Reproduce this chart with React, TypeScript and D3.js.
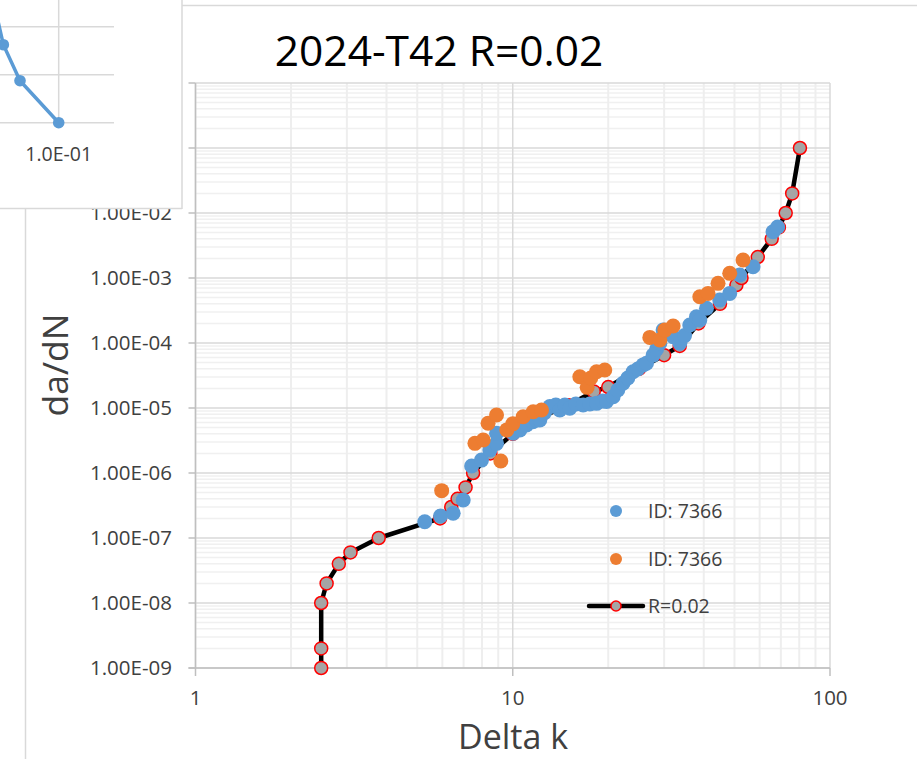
import React from "react";
import * as d3 from "d3";

// ---- main chart data ----
const blueX = [5.28, 5.92, 6.49, 6.98, 7.42, 7.97, 8.47, 8.89, 8.89, 10.03, 10.53, 11.05, 11.57, 11.89, 12.17, 12.6, 13.09, 13.67, 14.07, 14.6, 15.13, 15.81, 16.67, 17.5, 18.37, 19.22, 19.75, 20.72, 21.43, 22.27, 23.05, 23.95, 24.79, 25.76, 26.4, 27.7, 28.4, 29.08, 29.78, 31.26, 32.03, 33.62, 34.8, 36.14, 37.94, 38.87, 40.8, 44.92, 48.3, 51.94, 57.2, 66.14, 68.4];
const blueY = [1.78e-7, 2.18e-7, 2.4e-7, 3.85e-7, 1.28e-6, 1.58e-6, 2.26e-6, 2.86e-6, 4.08e-6, 4.08e-6, 4.6e-6, 5.47e-6, 6.15e-6, 6.53e-6, 6.53e-6, 8.5e-6, 1.05e-5, 1.11e-5, 9.3e-6, 1.11e-5, 9.9e-6, 1.15e-5, 1.11e-5, 1.15e-5, 1.18e-5, 1.28e-5, 1.26e-5, 1.49e-5, 1.89e-5, 2.4e-5, 2.9e-5, 3.61e-5, 3.98e-5, 4.6e-5, 4.88e-5, 6.5e-5, 8e-5, 9.9e-5, 1.58e-4, 1.41e-4, 1.25e-4, 9.9e-5, 1.3e-4, 1.89e-4, 2.54e-4, 2.26e-4, 3.42e-4, 4.59e-4, 5.8e-4, 1.11e-3, 1.49e-3, 5.15e-3, 6.1e-3];

const orangeX = [5.97, 7.6, 8.07, 8.36, 8.89, 9.17, 9.58, 10.0, 10.78, 11.6, 12.32, 16.27, 17.16, 17.62, 18.37, 19.5, 27.04, 29.08, 30.15, 32.03, 38.87, 41.27, 44.37, 48.3, 53.2];
const orangeY = [5.35e-7, 2.86e-6, 3.22e-6, 5.82e-6, 7.8e-6, 1.53e-6, 4.6e-6, 5.7e-6, 7.35e-6, 8.77e-6, 9.3e-6, 3.03e-5, 2.08e-5, 2.9e-5, 3.61e-5, 3.85e-5, 1.22e-4, 1.11e-4, 1.58e-4, 1.83e-4, 5.15e-4, 5.8e-4, 8.28e-4, 1.18e-3, 1.89e-3];

const rX = [2.49, 2.49, 2.49, 2.59, 2.83, 3.08, 3.78, 5.9, 6.4, 6.7, 7.1, 7.5, 8.5, 10, 12, 15, 18, 20, 25, 30, 33.6, 38.5, 45, 50.7, 52.6, 59.2, 65.5, 69, 72.5, 76, 80.4];
const rY = [1e-9, 2e-9, 1e-8, 2e-8, 4e-8, 6e-8, 1e-7, 2e-7, 3e-7, 4e-7, 6e-7, 1e-6, 2e-6, 4e-6, 7e-6, 1.1e-5, 1.8e-5, 2.1e-5, 4e-5, 6.5e-5, 9e-5, 2e-4, 4e-4, 7.8e-4, 1e-3, 2.1e-3, 4e-3, 6e-3, 1e-2, 2e-2, 1e-1];

const xTickValues = [1, 10, 100];
const yTickValues = [1e-9, 1e-8, 1e-7, 1e-6, 1e-5, 1e-4, 1e-3, 1e-2, 1e-1, 1];

const titleText = "2024-T42 R=0.02";
const xTitle = "Delta k";
const yTitle = "da/dN";
const seriesNames = ["ID: 7366", "ID: 7366", "R=0.02"];

// ---- partially visible chart behind (top-left) ----
const insetX = [0.0383, 0.0451, 0.0573, 0.1];
const insetY = [0.457, 0.0422, 0.0075, 0.001];
const insetGridY = [0.1, 0.01, 0.001];
const insetGridX = [0.1];
const insetTickLabel = "1.0E-01";

const FONT = "'Open Sans', 'Noto Sans', sans-serif";
const BLUE = "#5b9bd5";
const ORANGE = "#ed7d31";

function fmtSci(v: number): string {
  const e = Math.round(Math.log10(v));
  const sign = e < 0 ? "-" : "+";
  return "1.00E" + sign + String(Math.abs(e)).padStart(2, "0");
}

export default function App() {
  const W = 917, H = 759;
  const x = d3.scaleLog().domain([1, 100]).range([195.5, 830]);
  const y = d3.scaleLog().domain([1e-9, 1]).range([668, 83]);

  const minorX: number[] = [];
  for (let d = 0; d < 2; d++) for (let k = 2; k <= 9; k++) minorX.push(k * Math.pow(10, d));
  const minorY: number[] = [];
  for (let d = -9; d < 0; d++) for (let k = 2; k <= 9; k++) minorY.push(k * Math.pow(10, d));

  const rPts = rX.map((v, i) => [v, rY[i]] as [number, number]);
  const line = d3.line<[number, number]>().x(d => x(d[0])).y(d => y(d[1]));

  // inset scales
  const ix = d3.scaleLog().domain([0.01, 0.1]).range([58.7 - 160, 58.7]);
  const iy = d3.scaleLog().domain([1e-3, 1e-1]).range([122.7, 26.7]);
  const iPts = insetX.map((v, i) => [v, insetY[i]] as [number, number]);
  const iLine = d3.line<[number, number]>().x(d => ix(d[0])).y(d => iy(d[1]));

  const [x0, x1] = x.range();
  const [yb, yt] = y.range();

  return (
    <svg width={W} height={H} style={{ position: "absolute", left: 0, top: 0, display: "block", background: "#fff" }} fontFamily={FONT}>
      <rect x={0} y={0} width={W} height={H} fill="#fff" />
      {/* main chart frame */}
      <line x1={25.5} y1={0} x2={25.5} y2={H} stroke="#d9d9d9" strokeWidth={1.5} />
      <line x1={25.5} y1={5.5} x2={W} y2={5.5} stroke="#d9d9d9" strokeWidth={1.5} />

      {/* title */}
      <text x={439} y={66} textAnchor="middle" fontSize={42.5} fill="#000">{titleText}</text>

      {/* minor gridlines */}
      {minorY.map((v, i) => (
        <line key={"my" + i} x1={x0} x2={x1} y1={y(v)} y2={y(v)} stroke="#f0f0f0" strokeWidth={1.5} />
      ))}
      {minorX.map((v, i) => (
        <line key={"mx" + i} x1={x(v)} x2={x(v)} y1={yt} y2={yb} stroke="#eeeeee" strokeWidth={2} />
      ))}
      {/* major gridlines */}
      {yTickValues.map((v, i) => (
        <line key={"gy" + i} x1={x0} x2={x1} y1={y(v)} y2={y(v)} stroke="#d9d9d9" strokeWidth={1.5} />
      ))}
      {xTickValues.map((v, i) => (
        <line key={"gx" + i} x1={x(v)} x2={x(v)} y1={yt} y2={yb} stroke="#d9d9d9" strokeWidth={1.5} />
      ))}

      {/* axes */}
      <line x1={x0} x2={x0} y1={yt} y2={yb} stroke="#bfbfbf" strokeWidth={1.5} />
      <line x1={x0 - 7} x2={x1} y1={yb} y2={yb} stroke="#bfbfbf" strokeWidth={1.5} />
      {yTickValues.map((v, i) => (
        <line key={"ty" + i} x1={x0 - 7} x2={x0} y1={y(v)} y2={y(v)} stroke="#bfbfbf" strokeWidth={1.5} />
      ))}
      {xTickValues.map((v, i) => (
        <line key={"tx" + i} x1={x(v)} x2={x(v)} y1={yb} y2={yb + 8} stroke="#bfbfbf" strokeWidth={1.5} />
      ))}
      {yTickValues.map((v, i) => (
        <text key={"ly" + i} x={172} y={y(v) + 7} textAnchor="end" fontSize={20.5} fill="#404040">{fmtSci(v)}</text>
      ))}
      {xTickValues.map((v, i) => (
        <text key={"lx" + i} x={x(v)} y={705} textAnchor="middle" fontSize={20.5} fill="#404040">{String(v)}</text>
      ))}

      {/* axis titles */}
      <text x={513} y={748.5} textAnchor="middle" fontSize={34} fill="#404040">{xTitle}</text>
      <text transform={`translate(68,365) rotate(-90)`} textAnchor="middle" fontSize={35.5} fill="#404040">{yTitle}</text>

      {/* R line series */}
      <path d={line(rPts) || ""} fill="none" stroke="#000" strokeWidth={4.5} strokeLinejoin="round" />
      {rPts.map((p, i) => (
        <circle key={"r" + i} cx={x(p[0])} cy={y(p[1])} r={6.5} fill="#a5a5a5" stroke="#ff0000" strokeWidth={1.5} />
      ))}
      {/* blue series */}
      {blueX.map((v, i) => (
        <circle key={"b" + i} cx={x(v)} cy={y(blueY[i])} r={7.5} fill={BLUE} />
      ))}
      {/* orange series */}
      {orangeX.map((v, i) => (
        <circle key={"o" + i} cx={x(v)} cy={y(orangeY[i])} r={7.5} fill={ORANGE} />
      ))}

      {/* legend */}
      <circle cx={616} cy={511} r={6} fill={BLUE} />
      <text x={648} y={518} fontSize={19.5} fill="#404040">{seriesNames[0]}</text>
      <circle cx={616} cy={559} r={6} fill={ORANGE} />
      <text x={648} y={566} fontSize={19.5} fill="#404040">{seriesNames[1]}</text>
      <line x1={589} x2={643} y1={606} y2={606} stroke="#000" strokeWidth={4.5} strokeLinecap="round" />
      <circle cx={616} cy={606} r={5} fill="#a5a5a5" stroke="#ff0000" strokeWidth={1.5} />
      <text x={648} y={613} fontSize={19.5} fill="#404040">{seriesNames[2]}</text>

      {/* overlapping chart in the top-left corner */}
      <defs>
        <clipPath id="insetClip">
          <rect x={0} y={0} width={182} height={208.5} />
        </clipPath>
      </defs>
      <g clipPath="url(#insetClip)">
        <rect x={0} y={0} width={182} height={208.5} fill="#fff" />
        {insetGridY.map((v, i) => (
          <line key={"igy" + i} x1={0} x2={114} y1={iy(v)} y2={iy(v)} stroke="#d9d9d9" strokeWidth={1.5} />
        ))}
        {insetGridX.map((v, i) => (
          <line key={"igx" + i} x1={ix(v)} x2={ix(v)} y1={0} y2={iy(1e-3)} stroke="#d9d9d9" strokeWidth={1.5} />
        ))}
        <path d={iLine(iPts) || ""} fill="none" stroke={BLUE} strokeWidth={3.5} />
        {iPts.map((p, i) => (
          <circle key={"ip" + i} cx={ix(p[0])} cy={iy(p[1])} r={5.8} fill={BLUE} />
        ))}
        <text x={ix(0.1)} y={161} textAnchor="middle" fontSize={19.5} fill="#404040">{insetTickLabel}</text>
      </g>
      <line x1={182} x2={182} y1={0} y2={209} stroke="#d9d9d9" strokeWidth={1.5} />
      <line x1={0} x2={182} y1={208.5} y2={208.5} stroke="#d9d9d9" strokeWidth={1.5} />
    </svg>
  );
}
